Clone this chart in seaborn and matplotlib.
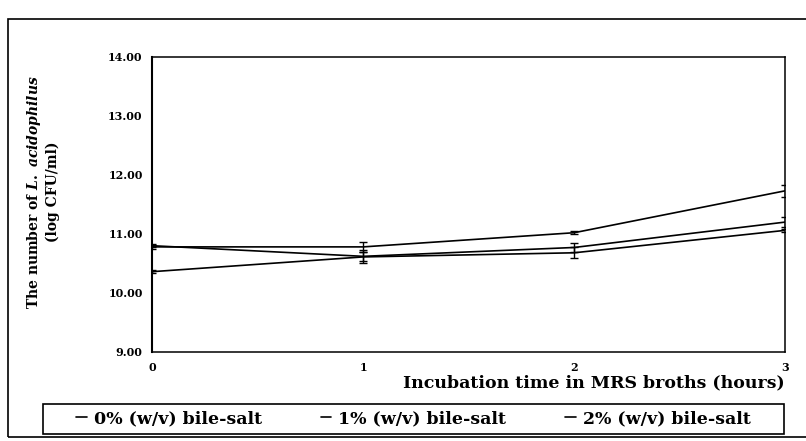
import matplotlib
matplotlib.use("Agg")
import matplotlib.pyplot as plt
import seaborn as sns
import pandas as pd
from matplotlib.patches import Rectangle

hours = [0, 1, 2, 3]
series_names = ["0% (w/v) bile-salt", "1% (w/v) bile-salt", "2% (w/v) bile-salt"]
bile0 = [10.78, 10.78, 11.02, 11.73]
bile1 = [10.80, 10.62, 10.77, 11.20]
bile2 = [10.36, 10.61, 10.68, 11.06]
err0 = [0.03, 0.08, 0.03, 0.10]
err1 = [0.03, 0.08, 0.07, 0.08]
err2 = [0.02, 0.11, 0.09, 0.03]
yticks = [9.0, 10.0, 11.0, 12.0, 13.0, 14.0]

sns.set_style("white")
plt.rcParams["font.family"] = ["DejaVu Serif"]
plt.rcParams["font.weight"] = "bold"
plt.rcParams["text.color"] = "black"
plt.rcParams["xtick.color"] = "black"
plt.rcParams["ytick.color"] = "black"
plt.rcParams["mathtext.fontset"] = "custom"
plt.rcParams["mathtext.it"] = "DejaVu Serif:italic:bold"
plt.rcParams["mathtext.rm"] = "DejaVu Serif:bold"

rows = []
for name, vals in zip(series_names, [bile0, bile1, bile2]):
    for h, v in zip(hours, vals):
        rows.append({"hour": h, "value": v, "series": name})
df = pd.DataFrame(rows)

fig = plt.figure(figsize=(8.06, 4.41), dpi=100)
ax = fig.add_axes([0.189, 0.202, 0.785, 0.669])

sns.lineplot(data=df, x="hour", y="value", hue="series",
             palette=["black", "black", "black"], linewidth=1.2, ax=ax,
             legend=False)
for vals, errs in zip([bile0, bile1, bile2], [err0, err1, err2]):
    ax.errorbar(hours, vals, yerr=errs, fmt="none", ecolor="black",
                elinewidth=1.0, capsize=3, capthick=1.0)

ax.set_xlim(0, 3)
ax.set_ylim(9, 14)
ax.set_xticks(hours)
ax.set_xticklabels([str(h) for h in hours], fontsize=8, fontweight="bold")
ax.set_yticks(yticks)
ax.set_yticklabels([f"{t:.2f}" for t in yticks], fontsize=8, fontweight="bold")
ax.tick_params(axis="both", direction="out", length=4, width=1, color="black", pad=3)
for s in ax.spines.values():
    s.set_color("black")
    s.set_linewidth(1.1)
ax.spines["left"].set_linewidth(1.5)
ax.set_xlabel("")
ax.set_ylabel("")

fig.text(0.974, 0.132, "Incubation time in MRS broths (hours)", ha="right",
         va="center", fontsize=12.5, fontweight="bold")
fig.text(0.042, 0.565, r"The number of $\mathit{L.\ acidophilus}$",
         rotation=90, ha="center", va="center", fontsize=10, fontweight="bold")
fig.text(0.066, 0.565, "(log CFU/ml)", rotation=90, ha="center", va="center",
         fontsize=10, fontweight="bold")

handles = [plt.Line2D([0], [0], color="black", lw=1.2) for _ in series_names]
leg = fig.legend(handles, series_names, loc="center",
                 bbox_to_anchor=(0.053, 0.016, 0.92, 0.068),
                 ncol=3, frameon=False, handlelength=0.6,
                 handletextpad=0.4, borderaxespad=0, columnspacing=3.4,
                 prop={"weight": "bold", "size": 12.5})
fig.patches.append(Rectangle((0.053, 0.016), 0.92, 0.068, transform=fig.transFigure,
                             fill=False, edgecolor="black", linewidth=1.2))

fig.patches.append(Rectangle((0.01, 0.009), 1.0, 0.948, transform=fig.transFigure,
                             fill=False, edgecolor="black", linewidth=1.2))

fig.savefig("out.png", dpi=100)
